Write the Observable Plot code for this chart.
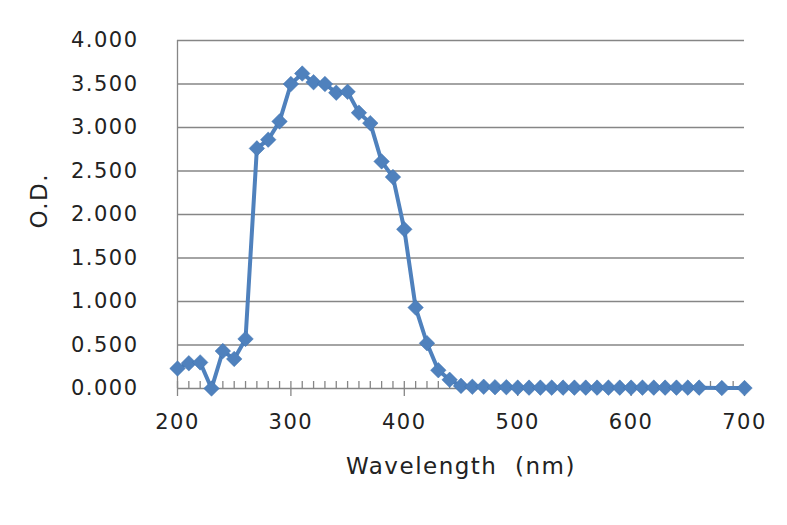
<!DOCTYPE html>
<html>
<head>
<meta charset="utf-8">
<script src="https://cdn.jsdelivr.net/npm/d3@7"></script>
<script src="https://cdn.jsdelivr.net/npm/@observablehq/plot@0.6"></script>
<style>
  html, body { margin: 0; padding: 0; background: #fff; }
  svg text { letter-spacing: 1.5px; }
</style>
</head>
<body>
<div id="chart"></div>
<script>
const wavelengths = [200,210,220,230,240,250,260,270,280,290,300,310,320,330,340,350,360,370,380,390,400,410,420,430,440,450,460,470,480,490,500,510,520,530,540,550,560,570,580,590,600,610,620,630,640,650,660,680,700];
const od = [0.23,0.29,0.30,0.00,0.43,0.34,0.57,2.76,2.86,3.07,3.50,3.62,3.52,3.50,3.40,3.41,3.17,3.05,2.61,2.43,1.83,0.93,0.52,0.21,0.10,0.03,0.02,0.02,0.015,0.015,0.01,0.01,0.01,0.01,0.01,0.01,0.01,0.01,0.01,0.01,0.01,0.01,0.01,0.01,0.01,0.01,0.01,0.005,0.005];
const yTicks = [0,0.5,1,1.5,2,2.5,3,3.5,4];
const xMajor = [200,300,400,500,600,700];
const xMinor = d3.range(200, 701, 10);
const xLabel = "Wavelength  (nm)";
const yLabel = "O.D.";

const data = wavelengths.map((w, i) => ({w, v: od[i]}));

const chart = Plot.plot({
  width: 787, height: 525,
  marginLeft: 177, marginRight: 43, marginTop: 40, marginBottom: 137,
  x: {domain: [200, 700]},
  y: {domain: [0, 4]},
  style: {fontFamily: "DejaVu Sans", fontSize: "21px", color: "#222", background: "#fff"},
  marks: [
    Plot.ruleY(yTicks, {stroke: "#868686", strokeWidth: 1.3}),
    Plot.ruleX([200], {stroke: "#868686", strokeWidth: 1.3}),
    Plot.axisY({ticks: yTicks, tickSize: 0, tickPadding: 39, tickFormat: d => d.toFixed(3), label: null, fill: "#222"}),
    Plot.axisX({ticks: xMinor, tickSize: -7, tickFormat: () => "", label: null, stroke: "#868686", strokeWidth: 1.3}),
    Plot.axisX({ticks: xMajor, tickSize: 8, tickPadding: 18, label: null, stroke: "#868686", strokeWidth: 1.3, fill: "#222"}),
    Plot.line(data, {x: "w", y: "v", stroke: "#4F81BD", strokeWidth: 4, strokeLinejoin: "round"}),
    Plot.dot(data, {x: "w", y: "v", symbol: "diamond2", fill: "#4F81BD", stroke: "#3f73b0", strokeWidth: 0.5, r: 7}),
    Plot.text([xLabel], {frameAnchor: "bottom", dy: 85, fontSize: 23, fill: "#222"}),
    Plot.text([yLabel], {frameAnchor: "left", dx: -138, dy: 14, rotate: -90, fontSize: 23, fill: "#222"})
  ]
});
document.getElementById("chart").appendChild(chart);
</script>
</body>
</html>
